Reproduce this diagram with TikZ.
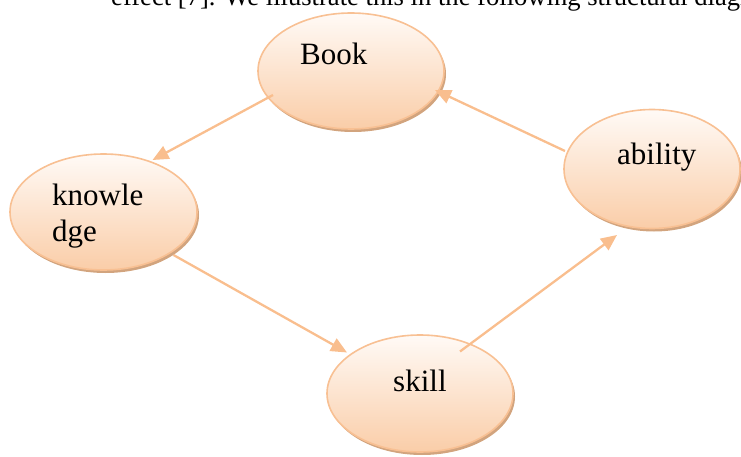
\documentclass[tikz,border=0pt]{standalone}
\usepackage{fontspec}
\setmainfont{Liberation Serif}
\usetikzlibrary{shapes.geometric,arrows.meta,calc,shadows}
\definecolor{edgec}{HTML}{F8C093}
\definecolor{arrowc}{HTML}{F9BE8E}
\definecolor{topc}{HTML}{FFFAF6}
\definecolor{botc}{HTML}{FACDA8}
\definecolor{shadc}{HTML}{D2A47E}
\tikzset{
  bubble/.style={ellipse, draw=edgec, line width=1.6pt, inner sep=0pt,
    top color=topc, bottom color=botc,
    drop shadow={shadow xshift=2pt, shadow yshift=-3pt, fill=shadc, opacity=1}},
  lbl/.style={anchor=base west, inner sep=0pt, font=\fontsize{31}{36}\selectfont},
  arr/.style={draw=arrowc, line width=2.3pt, -{Triangle[length=16pt,width=14pt]}}
}
\begin{document}
\begin{tikzpicture}[x=1pt,y=-1pt]
\useasboundingbox (0,0) rectangle (741,457);
\clip (0,0) rectangle (741,457);
\node[anchor=base west, inner sep=0pt, font=\fontsize{26.6}{32}\selectfont] (head) at (111,6) {effect [7]. We illustrate this in the following structural diagram};
\node[bubble, minimum width=186pt, minimum height=116pt] (book) at (351,71) {};
\node[bubble, minimum width=187pt, minimum height=116pt] (know) at (103.5,212) {};
\node[bubble, minimum width=186pt, minimum height=117pt] (skill) at (420,393.5) {};
\node[bubble, minimum width=176pt, minimum height=119pt] (abil) at (652,169) {};
\node[lbl] (bookt) at (300,65) {Book};
\node[lbl] (know1) at (52,205) {knowle};
\node[lbl] (know2) at (52,241) {dge};
\node[lbl] (skillt) at (393,391) {skill};
\node[lbl] (abilt) at (617,165) {ability};
\draw[arr] ($(book.center)+(-78,24)$) -- ($(know.center)+(49,-52)$);
\draw[arr] ($(know.center)+(70,43)$) -- ($(skill.center)+(-73,-41)$);
\draw[arr] ($(skill.center)+(40,-42)$) -- ($(abil.center)+(-35,66)$);
\draw[arr] ($(abil.center)+(-87,-18)$) -- ($(book.center)+(84,19)$);
\end{tikzpicture}
\end{document}
